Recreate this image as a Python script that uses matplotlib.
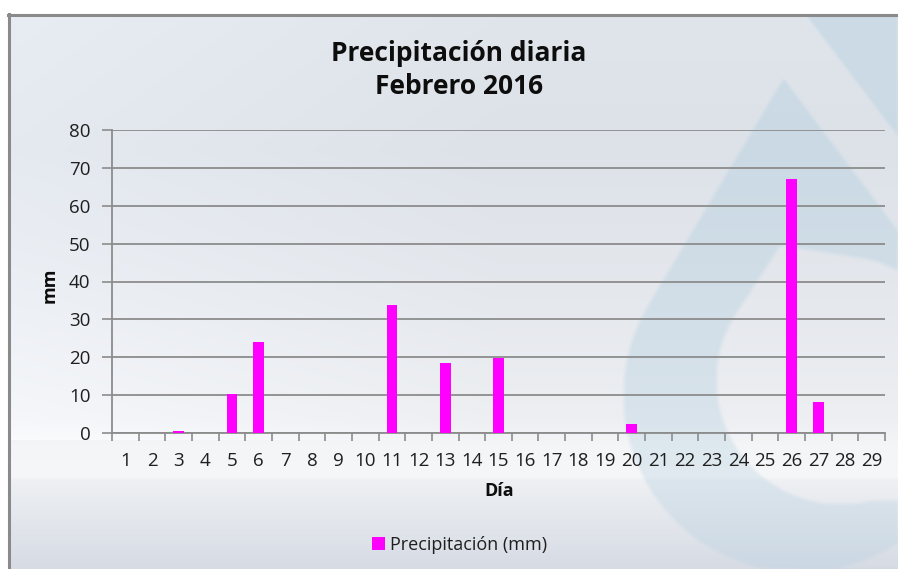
import numpy as np
import matplotlib
matplotlib.use("Agg")
import matplotlib.pyplot as plt
from matplotlib.path import Path
from matplotlib.patches import Patch

# ---------------- data ----------------
days = list(range(1, 30))
precip = [0, 0, 0.4, 0, 10.2, 24.0, 0, 0, 0, 0,
          33.8, 0, 18.4, 0, 19.7, 0, 0, 0, 0, 2.3,
          0, 0, 0, 0, 0, 67.0, 8.1, 0, 0]
y_ticks = [0, 10, 20, 30, 40, 50, 60, 70, 80]
title = "Precipitación diaria\nFebrero 2016"
x_label = "Día"
y_label = "mm"
series_name = "Precipitación (mm)"

W, H = 898, 569
FONT = "Open Sans"
plt.rcParams["font.family"] = [FONT, "DejaVu Sans"]

fig = plt.figure(figsize=(W / 100, H / 100), dpi=100)

# ---------------- background (decorative) ----------------
yy, xx = np.mgrid[0:H, 0:W].astype(float)
stops_y = [14, 150, 300, 420, 445, 476, 480, 569]
stops_c = np.array([(224, 229, 235), (221, 226, 233), (229, 232, 237),
                    (237, 239, 242), (244, 245, 247), (246, 247, 248),
                    (238, 240, 243), (214, 219, 228)], float)
bg = np.zeros((H, W, 3))
for k in range(3):
    bg[..., k] = np.interp(yy, stops_y, stops_c[:, k])
bg += (8 * np.clip(1 - xx / 500, 0, 1))[..., None] * (yy < 440)[..., None]


def hull_mask(apex, center, r):
    ax_, ay_ = apex
    cx, cy = center
    d = np.hypot(ax_ - cx, ay_ - cy)
    th0 = np.arctan2(ay_ - cy, ax_ - cx)
    a = np.arccos(r / d)
    th = np.linspace(th0 + a, th0 + 2 * np.pi - a, 200)
    pts = np.column_stack([cx + r * np.cos(th), cy + r * np.sin(th)])
    pts = np.vstack([[apex], pts, [apex]])
    p = Path(pts)
    m = p.contains_points(np.column_stack([xx.ravel(), yy.ravel()]))
    return m.reshape(H, W)


outer = hull_mask((783, 78), (800, 395), 177)
inner = hull_mask((780, 245), (840, 380), 124)
inner |= (xx >= 843) & (yy >= 343) & (yy <= 500)
band = xx > 806 + (yy - 15) * 0.757
blue_m = ((outer & ~inner) | band).astype(float)
soft = np.zeros_like(blue_m)
n = 0
for dx in range(-2, 3):
    for dy in range(-2, 3):
        soft += np.roll(np.roll(blue_m, dx, axis=1), dy, axis=0)
        n += 1
soft /= n
blue = np.array([178, 206, 223], float)
fade = np.interp(yy, [0, 300, 569], [0.45, 0.38, 0.3])
alpha = (fade * soft)[..., None]
img = bg * (1 - alpha) + blue * alpha
img[yy < 14] = 255
img[xx < 8] = 255
img = np.clip(img, 0, 255) / 255.0

bax = fig.add_axes([0, 0, 1, 1])
bax.imshow(img, extent=(0, W, H, 0), aspect="auto", interpolation="bilinear")
bax.plot([8, W], [14.5, 14.5], color="#8a8a8a", lw=2.2)
bax.plot([9, 9], [14, H], color="#8a8a8a", lw=2.2)
bax.set_xlim(0, W)
bax.set_ylim(H, 0)
bax.axis("off")

# ---------------- chart ----------------
left, right, top, bottom = 112, 885, 130, 433
ax = fig.add_axes([left / W, 1 - bottom / H, (right - left) / W, (bottom - top) / H])
ax.set_facecolor("none")
ax.bar(days, precip, width=0.4, color="#ff00ff", zorder=3)

ax.set_xlim(0.5, len(days) + 0.5)
ax.set_ylim(0, 80)
ax.set_yticks(y_ticks)
ax.set_yticklabels([str(v) for v in y_ticks])
ax.yaxis.grid(True, color="#8c8c8c", lw=1.3, zorder=1)
ax.set_axisbelow(True)

ax.set_xticks(np.arange(0.5, len(days) + 1, 1.0))
ax.set_xticklabels([])
ax.set_xticks(days, minor=True)
ax.set_xticklabels([str(d) for d in days], minor=True)
ax.tick_params(axis="x", which="major", length=6, width=1.2, color="#8c8c8c", direction="out")
ax.tick_params(axis="x", which="minor", length=0, pad=14, labelsize=13.5, labelcolor="#1f1f1f")
ax.tick_params(axis="y", length=7, width=1.2, color="#8c8c8c", pad=8.5, labelsize=13.5,
               labelcolor="#1f1f1f")

for s in ["top", "right"]:
    ax.spines[s].set_visible(False)
for s in ["left", "bottom"]:
    ax.spines[s].set_color("#8c8c8c")
    ax.spines[s].set_linewidth(1.3)

fig.text(459 / W, 1 - 70 / H, title, ha="center", va="center", fontsize=19,
         fontweight="bold", color="#0d0d0d", linespacing=1.32)
fig.text(50 / W, 1 - 285 / H, y_label, ha="center", va="center", rotation=90,
         fontsize=13, fontweight="bold", color="#0d0d0d")
fig.text(499 / W, 1 - 491 / H, x_label, ha="center", va="center",
         fontsize=13, fontweight="bold", color="#0d0d0d")

handle = Patch(facecolor="#ff00ff", edgecolor="none")
fig.legend([handle], [series_name], loc="center", bbox_to_anchor=(460 / W, 1 - 545 / H),
           frameon=False, fontsize=13, handlelength=0.7, handleheight=0.7,
           handletextpad=0.3, labelcolor="#1f1f1f")

fig.savefig("out.png", dpi=100)
